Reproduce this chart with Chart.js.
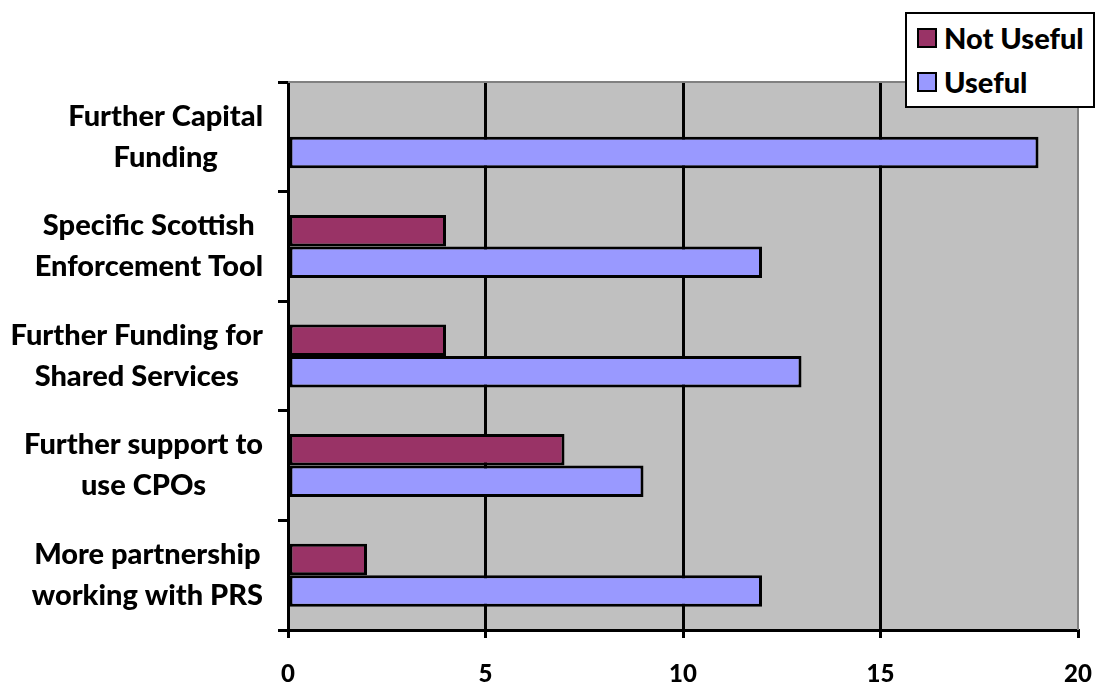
<!DOCTYPE html>
<html>
<head>
<meta charset="utf-8">
<script src="https://cdn.jsdelivr.net/npm/chart.js@4/dist/chart.umd.min.js"></script>
<style>
html,body{margin:0;padding:0;background:#fff}
#wrap{position:relative;width:1097px;height:686px}
#legend{position:absolute;left:905px;top:12px;width:186px;height:92px;border:2px solid #000;background:#fff;
font-family:Lato,"Liberation Sans",sans-serif;font-weight:900;font-size:29px;color:#000}
.item{position:absolute;left:10px;display:flex;align-items:center}
.box{width:16px;height:16px;border:2px solid #000;margin-right:7px}
</style>
</head>
<body>
<div id="wrap">
<canvas id="chart" width="1097" height="686"></canvas>
<div id="legend"></div>
</div>
<script>
let categories = [
["Further Capital","Funding"],
["Specific Scottish","Enforcement Tool"],
["Further Funding for","Shared Services"],
["Further support to","use CPOs"],
["More partnership","working with PRS"]
]
let notUseful = [0,4,4,7,2]
let useful = [19,12,13,9,12]
let seriesNames = ["Not Useful","Useful"]
let seriesColors = ["#993366","#9999FF"]
let xTicks = [0,5,10,15,20]

let labelFont = "900 29px Lato"

// legend built from the series arrays
let legend = document.getElementById("legend")
seriesNames.forEach(function(name,i){
let item = document.createElement("div")
item.className = "item"
item.style.top = (i==0 ? 6 : 50)+"px"
item.innerHTML = '<span class="box" style="background:'+seriesColors[i]+'"></span>'+name
legend.appendChild(item)
})

const plotBg = {
id:"plotBg",
beforeDraw(chart){
let a = chart.chartArea
let ctx = chart.ctx
ctx.save()
ctx.fillStyle = "#C0C0C0"
ctx.fillRect(a.left,a.top,a.right-a.left,a.bottom-a.top)
ctx.restore()
},
beforeDatasetsDraw(chart){
let a = chart.chartArea
let ctx = chart.ctx
ctx.save()
ctx.strokeStyle = "#808080"
ctx.lineWidth = 2
ctx.beginPath()
ctx.moveTo(a.left,a.top)
ctx.lineTo(a.right,a.top)
ctx.lineTo(a.right,a.bottom)
ctx.stroke()
ctx.restore()
},
afterDraw(chart){
// category labels: lines centred on each other, block right-aligned to the axis
let y = chart.scales.y
let ctx = chart.ctx
ctx.save()
ctx.font = labelFont
ctx.fillStyle = "#000"
ctx.textAlign = "center"
ctx.textBaseline = "middle"
categories.forEach(function(lines,i){
let w = Math.max(...lines.map(l => ctx.measureText(l).width))
let cx = y.right - 25 - w/2
let cy = y.getPixelForValue(i)
let lh = 41
lines.forEach(function(l,j){
ctx.fillText(l,cx,cy+(j-(lines.length-1)/2)*lh)
})
})
ctx.restore()
}
}

new Chart(document.getElementById("chart"),{
type:"bar",
data:{
labels:categories,
datasets:[{
label:seriesNames[0],
data:notUseful,
backgroundColor:seriesColors[0],
borderColor:"#000",
borderWidth:ctx => ctx.raw==0 ? 0 : 3,
borderSkipped:false
},{
label:seriesNames[1],
data:useful,
backgroundColor:seriesColors[1],
borderColor:"#000",
borderWidth:3,
borderSkipped:false
}]
},
options:{
indexAxis:"y",
responsive:false,
animation:false,
barPercentage:1,
categoryPercentage:0.575,
layout:{padding:{top:82,right:19,left:0,bottom:0}},
plugins:{legend:{display:false},tooltip:{enabled:false}},
scales:{
x:{
min:xTicks[0],
max:xTicks[xTicks.length-1],
afterFit(s){s.height = 56; s.paddingLeft = 0; s.paddingRight = 0},
ticks:{stepSize:5,color:"#000",font:{family:"Lato",weight:"900",size:24},padding:22},
border:{color:"#000",width:3},
grid:{
color:c => (c.tick.value==xTicks[0] || c.tick.value==xTicks[xTicks.length-1]) ? "rgba(0,0,0,0)" : "#000",
lineWidth:3,
tickColor:"#000",
tickLength:8
}
},
y:{
afterFit(s){s.width = 288},
ticks:{display:false},
border:{color:"#000",width:3},
grid:{offset:true,drawOnChartArea:false,color:"#000",lineWidth:3,tickLength:10}
}
}
},
plugins:[plotBg]
})
</script>
</body>
</html>
